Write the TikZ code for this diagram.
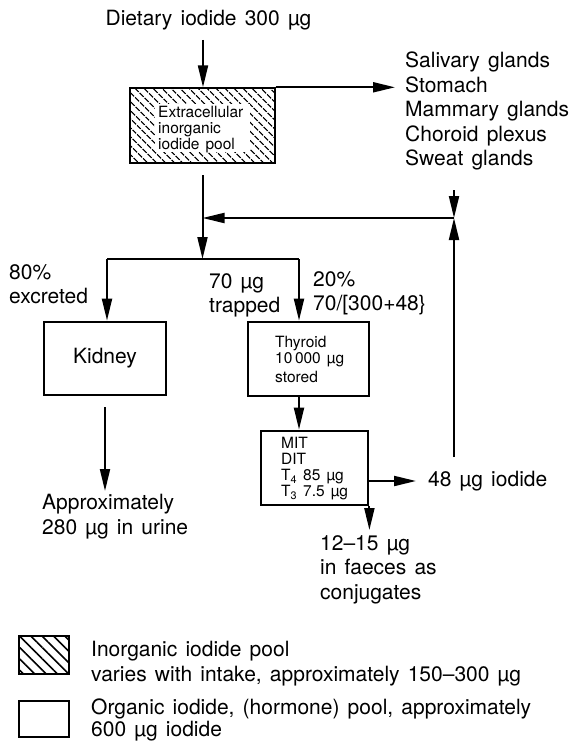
\documentclass[tikz,border=0pt]{standalone}
\usepackage{fontspec}
\setmainfont{TeX Gyre Heros}[WordSpace=1.4]
\usetikzlibrary{arrows.meta,patterns.meta}
\newcommand\bigsz{\fontsize{21}{24.5}\selectfont}
\newcommand\keysz{\fontsize{21}{21.5}\selectfont}
\newcommand\boxsz{\fontsize{15.5}{16}\selectfont}
\tikzset{>={Triangle[length=22pt,width=10pt]},
  flow/.style={line width=2pt,->},
  edge/.style={line width=2pt},
  txt/.style={font=\bigsz,align=left,inner sep=0pt},
  organ/.style={draw,line width=2.8pt,inner sep=0pt},
  hatch/.style={pattern={Lines[angle=-45,distance=6.5pt,line width=1.4pt]}},
  keyhatch/.style={pattern={Lines[angle=-45,distance=8pt,line width=1.6pt]}}}

\begin{document}
\begin{tikzpicture}[x=1pt,y=-1pt]
\useasboundingbox (0,0) rectangle (579,741);
% pools and organs
\node[organ,hatch,minimum width=145pt,minimum height=75pt] (pool) at (202.5,125.5) {};
\node[fill=white,inner sep=0pt,minimum width=95pt,minimum height=48pt] (poolBg) at (202.5,128) {};
\node[txt,font=\boxsz,anchor=north west] (poolTxt) at (158,106) {Extracellular\\inorganic\\iodide pool};
\node[organ,minimum width=122pt,minimum height=73pt,font=\bigsz] (kidney) at (105,358.5) {Kidney};
\node[organ,minimum width=121pt,minimum height=74pt] (thyroid) at (308.5,359) {};
\node[txt,font=\boxsz,anchor=north west] (thyTxt) at (275,336) {Thyroid\\10\,000 µg\\[3pt]stored};
\node[organ,minimum width=107pt,minimum height=74pt] (mit) at (314.5,468) {};
\node[txt,font=\boxsz,anchor=north west] (mitTxt) at (281,437) {MIT\\DIT\\T\textsubscript{4} 85 µg\\T\textsubscript{3} 7.5 µg};
% texts
\node[txt] (diet) at (208.5,20) {Dietary iodide 300 µg};
\node[txt,anchor=north west] (organs) at (405,52) {Salivary glands\\Stomach\\Mammary glands\\Choroid plexus\\Sweat glands};
\node[txt,anchor=north west] (excr) at (9,264) {80\%\\excreted};
\node[txt,anchor=north west] (trap) at (209,273) {70 µg\\trapped};
\node[txt,anchor=north west] (frac) at (313,271) {20\%\\70/[300+48\}};
\node[txt,anchor=west] (iodide) at (428,481) {48 µg iodide};
\node[txt,anchor=north west] (urine) at (42,494) {Approximately\\280 µg in urine};
\node[txt,anchor=north west] (faeces) at (320,535) {12–15 µg\\in faeces as\\conjugates};
% flows
\coordinate (dietOut) at (203,40);
\coordinate (poolOut) at (202.5,175);
\coordinate (join) at (202.5,218);
\coordinate (split) at (202.5,259);
\coordinate (kidIn) at (107,259);
\coordinate (thyIn) at (299,259);
\coordinate (kidOut) at (105,407);
\coordinate (retTop) at (454,218);
\coordinate (retBot) at (454,457);
\coordinate (glandOut) at (454,190);
\draw[flow] (dietOut) -- (dietOut |- pool.north);
\draw[flow,shorten >=10pt] (pool.north east) -- (pool.north east -| organs.west);
\draw[flow] (poolOut) -- (split);
\draw[edge] (kidIn) -- (thyIn);
\draw[flow] (kidIn) -- (kidIn |- kidney.north);
\draw[flow] (thyIn) -- (thyIn |- thyroid.north);
\draw[flow] (thyIn |- thyroid.south) -- (thyIn |- mit.north);
\draw[flow,shorten >=12pt] (mit.east |- iodide.west) -- (iodide.west);
\draw[flow] (retBot) -- (retTop);
\draw[flow] (glandOut) -- (retTop);
\draw[flow] (retTop) -- (join);
\draw[flow,shorten >=3pt] (kidOut) -- (kidOut |- urine.north);
\draw[flow,shorten >=5pt] (mit.south east) -- (mit.south east |- faeces.north);
% key
\node[organ,keyhatch,minimum width=50pt,minimum height=38pt] (keyIn) at (44,655) {};
\node[txt,anchor=north west] (keyInTxt) at (91,641) {Inorganic iodide pool\\varies with intake, approximately 150–300 µg};
\node[organ,minimum width=50pt,minimum height=36pt] (keyOrg) at (44,719) {};
\node[txt,font=\keysz,anchor=north west] (keyOrgTxt) at (91,699) {Organic iodide, (hormone) pool, approximately\\600 µg iodide};
\end{tikzpicture}
\end{document}
